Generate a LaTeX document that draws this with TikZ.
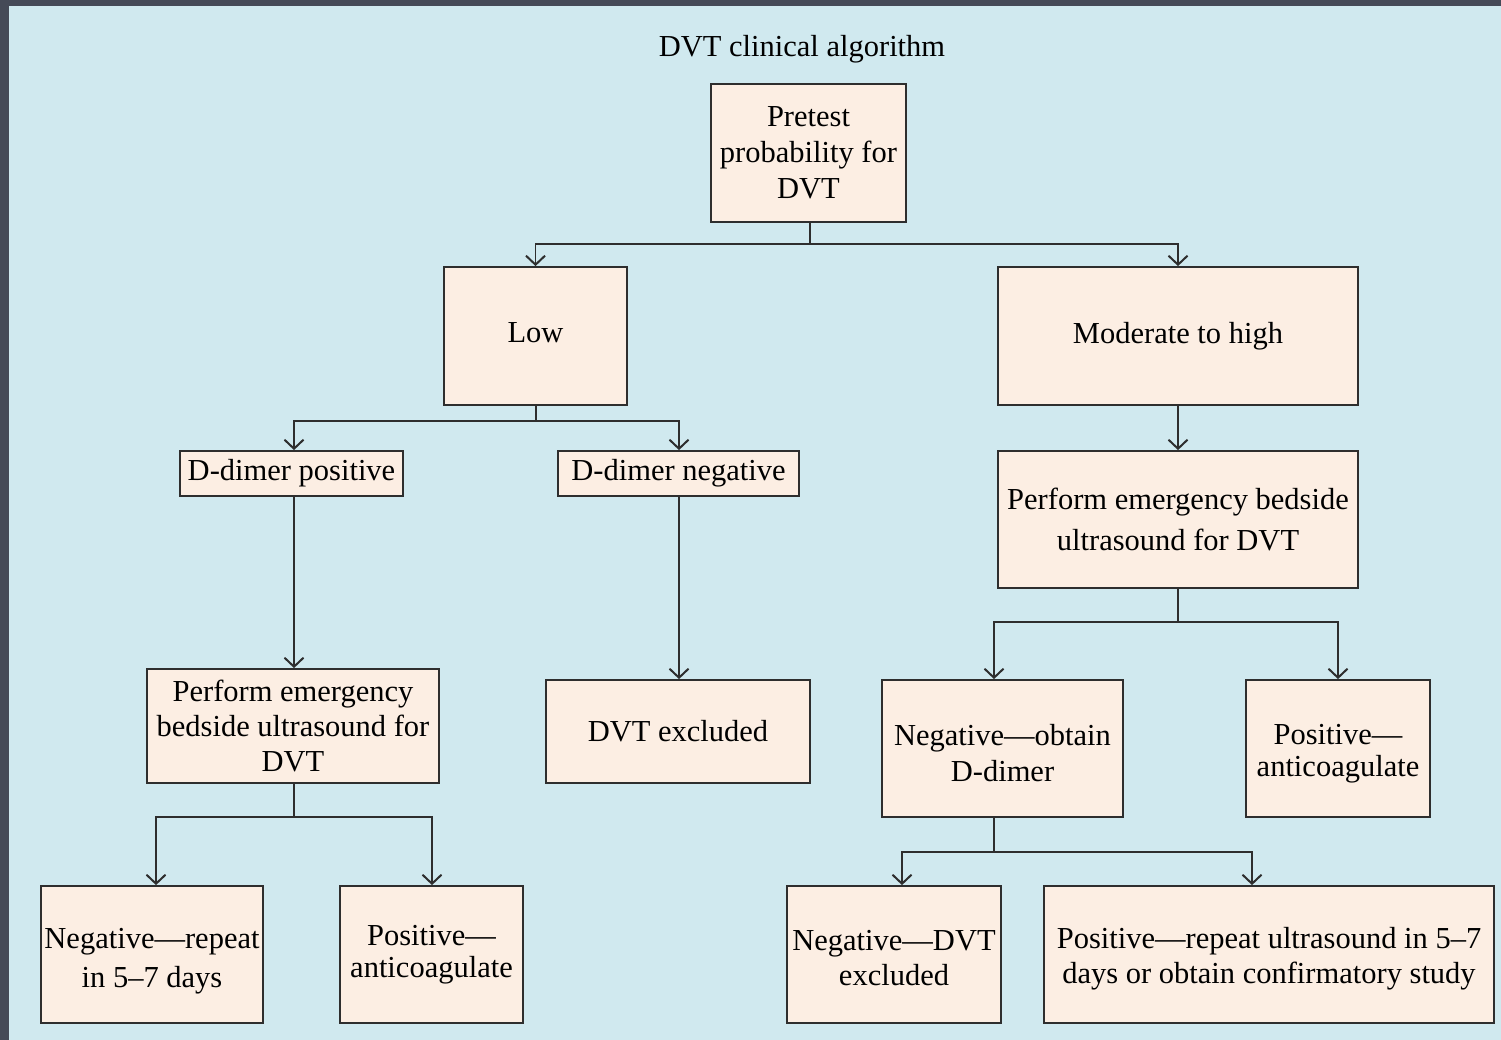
\documentclass[tikz,border=0pt]{standalone}
\usepackage{fontspec}
\setmainfont{Liberation Serif}
\usetikzlibrary{arrows.meta}
\definecolor{bgblue}{HTML}{D0E9EF}
\definecolor{boxfill}{HTML}{FCEEE3}
\definecolor{frame}{HTML}{454A57}
\definecolor{ink}{HTML}{2E2E2E}
\tikzset{
  box/.style={draw=ink, line width=1.8pt, fill=boxfill, inner sep=0pt, align=center, font=\fontsize{30.5}{36}\selectfont, text=black},
  txt/.style={inner sep=0pt, align=center, font=\fontsize{30.5}{36}\selectfont, text=black},
  conn/.style={draw=ink, line width=1.8pt},
  arr/.style={conn, -{Straight Barb[length=9pt,width=19pt,line width=2pt]}},
}
\begin{document}
\begin{tikzpicture}[x=1pt,y=-1pt]
\useasboundingbox (0,0) rectangle (1501,1040);
\fill[frame] (0,0) rectangle (1501,1040);
\fill[bgblue] (9,6) rectangle (1501,1040);
\node[font=\fontsize{30.5}{34}\selectfont] (title) at (802,49) {DVT clinical algorithm};
% boxes: center, width, height
\node[box, minimum width=195pt, minimum height=138pt] (pre) at (808.5,153) {Pretest\\probability for\\DVT};
\node[box, minimum width=183pt, minimum height=138pt] (low) at (535.5,336) {};
\node[txt] (lowt) at (535.5,333) {Low};
\node[box, minimum width=360pt, minimum height=138pt] (mod) at (1178,336) {Moderate to high};
\node[box, minimum width=223pt, minimum height=45pt] (dpos) at (291.5,473.5) {D-dimer positive};
\node[box, minimum width=241pt, minimum height=45pt] (dneg) at (678.5,473.5) {D-dimer negative};
\node[box, minimum width=360pt, minimum height=137pt, font=\fontsize{30.5}{41}\selectfont] (rus) at (1178,519.5) {Perform emergency bedside\\ultrasound for DVT};
\node[box, minimum width=292pt, minimum height=114pt, font=\fontsize{30.5}{35}\selectfont] (lus) at (293,726) {Perform emergency\\bedside ultrasound for\\DVT};
\node[box, minimum width=264pt, minimum height=103pt] (dex) at (678,731.5) {DVT excluded};
\node[box, minimum width=241pt, minimum height=137pt] (nod) at (1002.5,748.5) {};
\node[txt] (nodt) at (1002.5,753.5) {Negative—obtain\\D-dimer};
\node[box, minimum width=184pt, minimum height=137pt] (rpa) at (1338,748.5) {};
\node[txt, font=\fontsize{30.5}{32}\selectfont] (rpat) at (1338,753.5) {Positive—\\anticoagulate};
\node[box, minimum width=222pt, minimum height=137pt] (nrep) at (152,954.5) {};
\node[txt, font=\fontsize{30.5}{39}\selectfont] (nrept) at (152,961) {Negative—repeat\\in 5–7 days};
\node[box, minimum width=183pt, minimum height=137pt, font=\fontsize{30.5}{32}\selectfont] (lpa) at (431.5,954.5) {Positive—\\anticoagulate};
\node[box, minimum width=214pt, minimum height=137pt] (ndvt) at (894,954.5) {};
\node[txt, font=\fontsize{30.5}{35}\selectfont] (ndvtt) at (894,958.5) {Negative—DVT\\excluded};
\node[box, minimum width=450pt, minimum height=137pt] (prep) at (1269,954.5) {};
\node[txt, font=\fontsize{30.5}{35}\selectfont] (prept) at (1269,958.5) {Positive—repeat ultrasound in 5–7\\days or obtain confirmatory study};
% connectors
\coordinate (j1) at (810,244);
\draw[conn] (pre.south -| j1) -- (j1);
\draw[arr] (j1) -| (low.north);
\draw[arr] (j1) -| (mod.north);
\coordinate (j2) at (536,421);
\draw[conn] (low.south -| j2) -- (j2);
\draw[arr] (j2) -| ([xshift=2.5pt]dpos.north);
\draw[arr] (j2) -| ([xshift=0.5pt]dneg.north);
\draw[arr] (mod.south) -- (mod.south |- rus.north);
\draw[arr] ([xshift=2.5pt]dpos.south) -- ([xshift=2.5pt]dpos.south |- lus.north);
\draw[arr] ([xshift=0.5pt]dneg.south) -- ([xshift=0.5pt]dneg.south |- dex.north);
\coordinate (j3) at (1178,622);
\draw[conn] (rus.south) -- (j3);
\draw[arr] (j3) -| ([xshift=-8.5pt]nod.north);
\draw[arr] (j3) -| (rpa.north);
\coordinate (j4) at (294,817);
\draw[conn] (lus.south -| j4) -- (j4);
\draw[arr] (j4) -| ([xshift=4pt]nrep.north);
\draw[arr] (j4) -| ([xshift=0.5pt]lpa.north);
\coordinate (j5) at (994,852);
\draw[conn] (nod.south -| j5) -- (j5);
\draw[arr] (j5) -| ([xshift=8pt]ndvt.north);
\draw[arr] (j5) -| ([xshift=-17pt]prep.north);
\end{tikzpicture}
\end{document}
